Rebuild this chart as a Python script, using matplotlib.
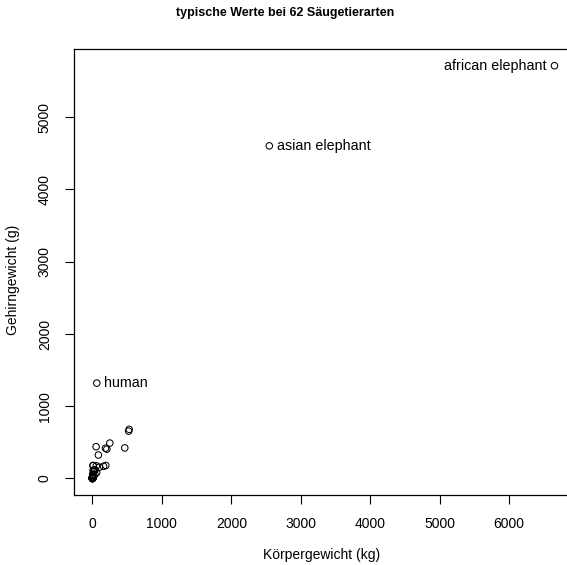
import matplotlib
matplotlib.use("Agg")
import matplotlib.pyplot as plt

plt.rcParams['font.family'] = ['Liberation Sans', 'DejaVu Sans']

# MASS::mammals - Körpergewicht (kg) und Gehirngewicht (g)
species = [
    "arctic fox", "owl monkey", "mountain beaver", "cow", "grey wolf", "goat",
    "roe deer", "guinea pig", "verbet", "chinchilla", "ground squirrel",
    "arctic ground squirrel", "african giant pouched rat",
    "lesser short-tailed shrew", "star-nosed mole", "nine-banded armadillo",
    "tree hyrax", "n.a. opossum", "asian elephant", "big brown bat", "donkey",
    "horse", "european hedgehog", "patas monkey", "cat", "galago", "genet",
    "giraffe", "gorilla", "grey seal", "rock hyrax-a", "human",
    "african elephant", "water opossum", "rhesus monkey", "kangaroo",
    "yellow-bellied marmot", "golden hamster", "mouse", "little brown bat",
    "slow loris", "okapi", "rabbit", "sheep", "jaguar", "chimpanzee", "baboon",
    "desert hedgehog", "giant armadillo", "rock hyrax-b", "raccoon", "rat",
    "e. american mole", "mole rat", "musk shrew", "pig", "echidna",
    "brazilian tapir", "tenrec", "phalanger", "tree shrew", "red fox",
]
body = [
    3.385, 0.48, 1.35, 465.0, 36.33, 27.66, 14.83, 1.04, 4.19, 0.425, 0.101,
    0.92, 1.0, 0.005, 0.06, 3.5, 2.0, 1.7, 2547.0, 0.023, 187.1, 521.0, 0.785,
    10.0, 3.3, 0.2, 1.41, 529.0, 207.0, 85.0, 0.75, 62.0, 6654.0, 3.5, 6.8,
    35.0, 4.05, 0.12, 0.023, 0.01, 1.4, 250.0, 2.5, 55.5, 100.0, 52.16, 10.55,
    0.55, 60.0, 3.6, 4.288, 0.28, 0.075, 0.122, 0.048, 192.0, 3.0, 160.0, 0.9,
    1.62, 0.104, 4.235,
]
brain = [
    44.5, 15.5, 8.1, 423.0, 119.5, 115.0, 98.2, 5.5, 58.0, 6.4, 4.0, 5.7, 6.6,
    0.14, 1.0, 10.8, 12.3, 6.3, 4603.0, 0.3, 419.0, 655.0, 3.5, 115.0, 25.6,
    5.0, 17.5, 680.0, 406.0, 325.0, 12.3, 1320.0, 5712.0, 3.9, 179.0, 56.0,
    17.0, 1.0, 0.4, 0.25, 12.5, 490.0, 12.1, 175.0, 157.0, 440.0, 179.5, 2.4,
    81.0, 21.0, 39.2, 1.9, 1.2, 3.0, 0.33, 180.0, 25.0, 169.0, 2.6, 11.4, 2.5,
    50.4,
]
labelled = {"african elephant": "left", "asian elephant": "right", "human": "right"}

fig = plt.figure(figsize=(5.67, 5.65), dpi=100)
ax = fig.add_axes([0.1305, 0.1239, 0.880, 0.789])

ax.scatter(body, brain, s=22, facecolors='none', edgecolors='black', linewidths=0.75)

for name, side in labelled.items():
    i = species.index(name)
    off = -5.5 if side == "left" else 5.5
    ax.annotate(name, (body[i], brain[i]), xytext=(off, 0), textcoords='offset points',
                ha='right' if side == "left" else 'left', va='center', fontsize=10.3)

# R-Stil: 4% Rand um den Datenbereich
xr = max(body) - min(body)
yr = max(brain) - min(brain)
ax.set_xlim(min(body) - 0.04 * xr, max(body) + 0.04 * xr)
ax.set_ylim(min(brain) - 0.04 * yr, max(brain) + 0.04 * yr)

ax.set_xticks(range(0, 7000, 1000))
ax.set_yticks(range(0, 6000, 1000))
ax.tick_params(direction='out', length=6.5, width=0.8, labelsize=10, pad=9.5)
for lab in ax.get_yticklabels():
    lab.set_rotation(90)
    lab.set_va('center')
for sp in ax.spines.values():
    sp.set_linewidth(0.9)

fig.text(322 / 567, 1 - 555 / 565, "Körpergewicht (kg)", ha='center', va='center', fontsize=10)
fig.text(13 / 567, 1 - 280 / 565, "Gehirngewicht (g)", ha='center', va='center',
         rotation=90, fontsize=10)
fig.text(285 / 567, 1 - 13 / 565, "typische Werte bei 62 Säugetierarten",
         ha='center', va='center', fontsize=9, fontweight='bold')

fig.savefig("out.png", dpi=100)
